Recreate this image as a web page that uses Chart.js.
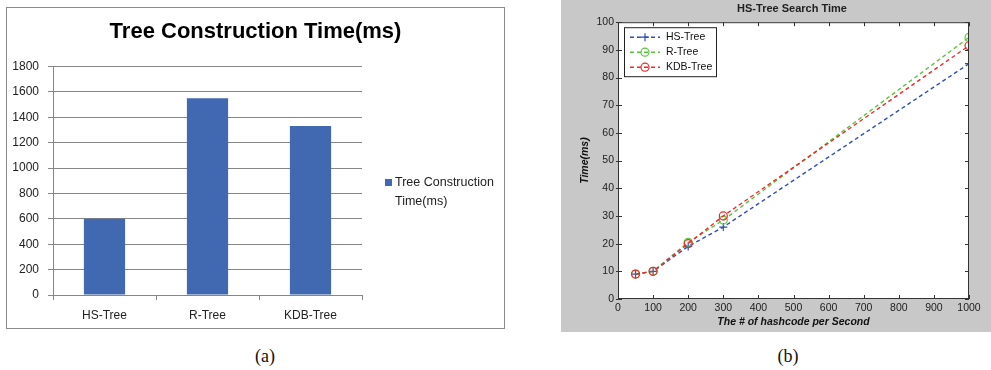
<!DOCTYPE html>
<html>
<head>
<meta charset="utf-8">
<script src="https://cdn.jsdelivr.net/npm/chart.js@4.4.1/dist/chart.umd.min.js"></script>
<style>
  body {
    margin: 0;
    width: 991px;
    height: 370px;
    background: #fff;
    position: relative;
    overflow: hidden;
    font-family: "Liberation Sans", Arial, sans-serif;
  }
  #panel-a {
    position: absolute;
    left: 6px;
    top: 7px;
    width: 497px;
    height: 320px;
    border: 1px solid #8a8a8a;
  }
  #panel-b {
    position: absolute;
    left: 561px;
    top: 0;
    width: 430px;
    height: 332px;
    background: #c8c8c8;
    overflow: hidden;
  }
  canvas {
    position: absolute;
    left: 0;
    top: 0;
  }
  .caption {
    position: absolute;
    top: 346px;
    width: 60px;
    text-align: center;
    font-family: "Liberation Serif", "DejaVu Serif", serif;
    font-size: 18px;
    line-height: 20px;
    color: #111;
  }
</style>
</head>
<body>
<div id="panel-a"><canvas id="constructionChart" width="497" height="320"></canvas></div>
<div id="panel-b"><canvas id="searchChart" width="462" height="332"></canvas></div>
<div class="caption" style="left:235px">(a)</div>
<div class="caption" style="left:758px">(b)</div>

<script>
// (a) tree construction time
const treeNames = ["HS-Tree", "R-Tree", "KDB-Tree"];
const constructionTimes = [600, 1550, 1330];
const constructionLabel = "Tree Construction Time(ms)";

// (b) search time vs hashcodes per second
const hashRates = [50, 100, 200, 300, 1000];
const hsTreeTimes = [9, 10, 19, 26, 85];
const rTreeTimes = [9, 10, 20.5, 28.5, 94.5];
const kdbTreeTimes = [9, 10, 20, 30, 91.5];
const searchXTicks = [0, 1000, 100];
const searchYTicks = [0, 100, 10];

document.addEventListener("DOMContentLoaded", function () {
  const sans = "'Liberation Sans', Arial, sans-serif";
  const plainNumber = (value) => String(value);

  // --- Bar chart legend (two-line label, drawn on the right) ---
  const barLegend = {
    id: "barLegend",
    afterDraw(chart) {
      const ctx = chart.ctx;
      const ds = chart.data.datasets[0];
      ctx.save();
      ctx.fillStyle = ds.backgroundColor;
      ctx.fillRect(378, 171, 7, 7);
      ctx.fillStyle = "#222";
      ctx.font = "12.5px " + sans;
      ctx.textBaseline = "middle";
      ctx.fillText("Tree Construction", 388, 175);
      ctx.fillText("Time(ms)", 388, 194);
      ctx.restore();
    },
  };

  // empty axis on the right so titles stay centred on the whole panel
  const spacerAxis = (w) => ({
    type: "linear",
    position: "right",
    display: true,
    grid: { display: false, drawTicks: false },
    border: { display: false },
    ticks: { display: false },
    afterFit: (scale) => {
      scale.width = w;
    },
  });

  const barCtx = document.getElementById("constructionChart");
  new Chart(barCtx, {
    type: "bar",
    data: {
      labels: treeNames,
      datasets: [
        {
          label: constructionLabel,
          data: constructionTimes,
          backgroundColor: "#4169b2",
          categoryPercentage: 1,
          barPercentage: 0.4,
        },
      ],
    },
    options: {
      responsive: false,
      animation: false,
      layout: { padding: 0 },
      plugins: {
        legend: { display: false },
        tooltip: { enabled: false },
        title: {
          display: true,
          text: constructionLabel,
          color: "#000",
          font: { family: sans, size: 22, weight: "bold" },
          padding: { top: 11, bottom: 21 },
        },
      },
      scales: {
        x: {
          grid: {
            display: true,
            offset: true,
            drawOnChartArea: false,
            tickLength: 5,
            color: "#868686",
          },
          border: { color: "#868686" },
          ticks: { color: "#222", font: { family: sans, size: 12 }, padding: 8 },
          afterFit: (scale) => {
            scale.height = 33;
          },
        },
        y: {
          min: 0,
          max: 1800,
          grid: { color: "#868686", tickLength: 5 },
          border: { color: "#868686" },
          ticks: {
            stepSize: 200,
            color: "#222",
            font: { family: sans, size: 12 },
            padding: 9,
            callback: plainNumber,
          },
          afterFit: (scale) => {
            scale.width = 46;
          },
        },
        spacer: spacerAxis(142),
      },
    },
    plugins: [barLegend],
  });

  // --- Line chart frame, inner ticks and boxed legend (MATLAB look) ---
  const matlabFrame = {
    id: "matlabFrame",
    beforeDraw(chart) {
      const { ctx, chartArea: a } = chart;
      ctx.save();
      ctx.fillStyle = "#fff";
      ctx.fillRect(a.left, a.top, a.right - a.left, a.bottom - a.top);
      ctx.restore();
    },
    afterDatasetsDraw(chart) {
      const { ctx, chartArea: a, scales } = chart;
      ctx.save();
      ctx.strokeStyle = "#333";
      ctx.lineWidth = 1;
      ctx.strokeRect(a.left + 0.5, a.top + 0.5, a.right - a.left - 1, a.bottom - a.top - 1);

      ctx.beginPath();
      scales.x.ticks.forEach((t) => {
        const px = Math.round(scales.x.getPixelForValue(t.value)) + 0.5;
        ctx.moveTo(px, a.bottom);
        ctx.lineTo(px, a.bottom - 4);
        ctx.moveTo(px, a.top);
        ctx.lineTo(px, a.top + 4);
      });
      scales.y.ticks.forEach((t) => {
        const py = Math.round(scales.y.getPixelForValue(t.value)) + 0.5;
        ctx.moveTo(a.left - 2, py);
        ctx.lineTo(a.left + 4, py);
        ctx.moveTo(a.right, py);
        ctx.lineTo(a.right - 4, py);
      });
      ctx.stroke();

      // legend box
      const bx = a.left + 6;
      const by = a.top + 5;
      ctx.fillStyle = "#fff";
      ctx.fillRect(bx, by, 92, 49);
      ctx.strokeStyle = "#222";
      ctx.strokeRect(bx + 0.5, by + 0.5, 92, 49);
      ctx.font = "10.5px " + sans;
      ctx.textBaseline = "middle";
      chart.data.datasets.forEach((ds, i) => {
        const y = by + 10 + i * 15;
        ctx.strokeStyle = ds.borderColor;
        ctx.lineWidth = ds.borderWidth;
        ctx.setLineDash(ds.borderDash);
        ctx.beginPath();
        ctx.moveTo(bx + 6, y);
        ctx.lineTo(bx + 36, y);
        ctx.stroke();
        ctx.setLineDash([]);
        ctx.lineWidth = 1.2;
        ctx.beginPath();
        if (ds.pointStyle === "cross") {
          ctx.moveTo(bx + 17, y);
          ctx.lineTo(bx + 25, y);
          ctx.moveTo(bx + 21, y - 4);
          ctx.lineTo(bx + 21, y + 4);
        } else {
          ctx.arc(bx + 21, y, 4, 0, Math.PI * 2);
        }
        ctx.stroke();
        ctx.fillStyle = "#111";
        ctx.fillText(ds.label, bx + 42, y);
      });
      ctx.restore();
    },
  };

  const series = [
    { label: "HS-Tree", data: hsTreeTimes, color: "#2f4fb8", style: "cross", order: 2 },
    { label: "R-Tree", data: rTreeTimes, color: "#5cc43c", style: "circle", order: 1 },
    { label: "KDB-Tree", data: kdbTreeTimes, color: "#f02828", style: "circle", order: 0 },
  ];

  const lineCtx = document.getElementById("searchChart");
  new Chart(lineCtx, {
    type: "line",
    data: {
      datasets: series.map((s) => ({
        label: s.label,
        data: hashRates.map((x, i) => ({ x: x, y: s.data[i] })),
        borderColor: s.color,
        borderWidth: 1.4,
        borderDash: [4, 3],
        pointStyle: s.style,
        pointRadius: 4,
        pointBorderWidth: 1.2,
        pointBorderColor: s.color,
        pointBackgroundColor: "transparent",
        fill: false,
        tension: 0,
        order: s.order,
      })),
    },
    options: {
      responsive: false,
      animation: false,
      layout: { padding: 0 },
      plugins: {
        legend: { display: false },
        tooltip: { enabled: false },
        title: {
          display: true,
          text: "HS-Tree Search Time",
          color: "#222",
          font: { family: sans, size: 11, weight: "bold" },
          padding: { top: 2, bottom: 7 },
        },
      },
      scales: {
        x: {
          type: "linear",
          min: searchXTicks[0],
          max: searchXTicks[1],
          grid: { display: false, drawTicks: false },
          border: { display: false },
          ticks: {
            stepSize: searchXTicks[2],
            color: "#222",
            font: { family: sans, size: 10.5 },
            padding: 3,
            maxRotation: 0,
            callback: plainNumber,
          },
          title: {
            display: true,
            text: "The # of hashcode per Second",
            color: "#111",
            font: { family: sans, size: 10.5, weight: "bold", style: "italic" },
            padding: { top: 0, bottom: 4 },
          },
          afterFit: (scale) => {
            scale.height = 33;
          },
        },
        y: {
          min: searchYTicks[0],
          max: searchYTicks[1],
          grid: { display: false, drawTicks: false },
          border: { display: false },
          ticks: {
            stepSize: searchYTicks[2],
            color: "#222",
            font: { family: sans, size: 10.5 },
            padding: 4,
            callback: plainNumber,
          },
          title: {
            display: true,
            text: "Time(ms)",
            color: "#111",
            font: { family: sans, size: 10.5, weight: "bold", style: "italic" },
            padding: { top: 18, bottom: 0 },
          },
          afterFit: (scale) => {
            scale.width = 57;
          },
        },
        spacer: spacerAxis(54),
      },
    },
    plugins: [matlabFrame],
  });
});
</script>
</body>
</html>
